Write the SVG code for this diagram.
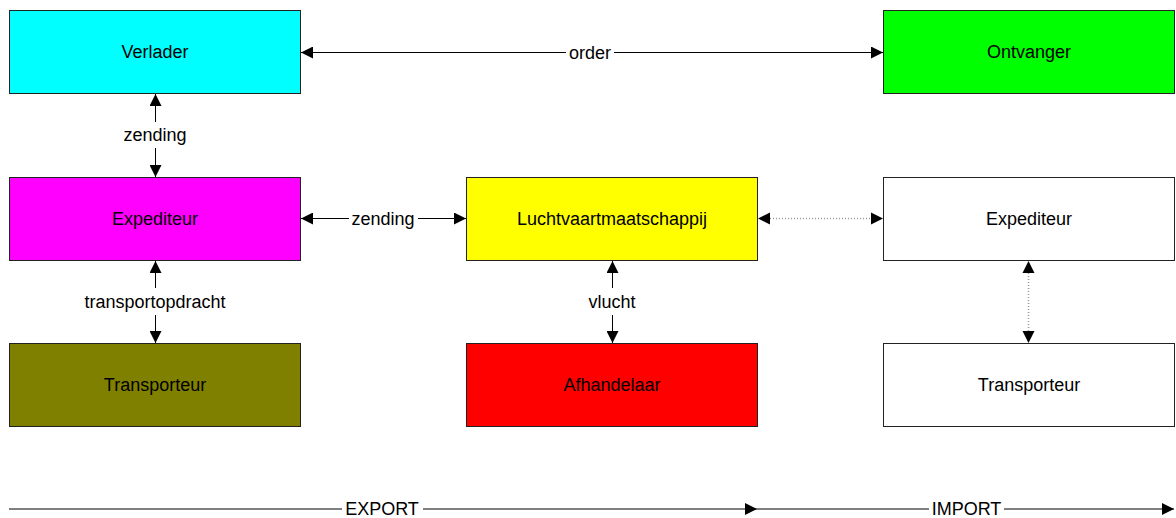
<svg xmlns="http://www.w3.org/2000/svg" width="1176" height="518" viewBox="0 0 1176 518">
<style>
.box{stroke:#222;stroke-width:1}
.t{font-family:"Liberation Sans",Arial,sans-serif;font-size:18px;fill:#000;text-anchor:middle}
.c{stroke:#000;stroke-width:1;fill:none}
.d{stroke:#999;stroke-width:1.5;stroke-dasharray:1 2;fill:none}
</style>
<defs>
<marker id="ah" markerUnits="userSpaceOnUse" markerWidth="12" markerHeight="12" refX="12" refY="6" orient="auto">
<path d="M0,0 L12,6 L0,12 z" fill="#000"/>
</marker>
</defs>
<rect width="1176" height="518" fill="#fff"/>
<g id="verlader"><rect class="box" x="9.5" y="10.5" width="291" height="83" fill="#00FFFF"/><text class="t" x="155" y="58">Verlader</text></g>
<g id="ontvanger"><rect class="box" x="883.5" y="10.5" width="291" height="83" fill="#00FF00"/><text class="t" x="1029" y="58">Ontvanger</text></g>
<g id="expediteur-export"><rect class="box" x="9.5" y="177.5" width="291" height="83" fill="#FF00FF"/><text class="t" x="155" y="225">Expediteur</text></g>
<g id="luchtvaartmaatschappij"><rect class="box" x="466.5" y="177.5" width="291" height="83" fill="#FFFF00"/><text class="t" x="612" y="225">Luchtvaartmaatschappij</text></g>
<g id="expediteur-import"><rect class="box" x="883.5" y="177.5" width="291" height="83" fill="#FFFFFF"/><text class="t" x="1029" y="225">Expediteur</text></g>
<g id="transporteur-export"><rect class="box" x="9.5" y="343.5" width="291" height="83" fill="#808000"/><text class="t" x="155" y="391">Transporteur</text></g>
<g id="afhandelaar"><rect class="box" x="466.5" y="343.5" width="291" height="83" fill="#FF0000"/><text class="t" x="612" y="391">Afhandelaar</text></g>
<g id="transporteur-import"><rect class="box" x="883.5" y="343.5" width="291" height="83" fill="#FFFFFF"/><text class="t" x="1029" y="391">Transporteur</text></g>
<g id="connectors">
<line class="c" x1="566" y1="52.5" x2="301" y2="52.5" marker-end="url(#ah)"/>
<line class="c" x1="614" y1="52.5" x2="883" y2="52.5" marker-end="url(#ah)"/>
<text class="t" x="590" y="59">order</text>
<line class="c" x1="155.5" y1="122" x2="155.5" y2="94" marker-end="url(#ah)"/>
<line class="c" x1="155.5" y1="148" x2="155.5" y2="177" marker-end="url(#ah)"/>
<text class="t" x="155" y="141">zending</text>
<line class="c" x1="349" y1="218.5" x2="301" y2="218.5" marker-end="url(#ah)"/>
<line class="c" x1="418" y1="218.5" x2="466" y2="218.5" marker-end="url(#ah)"/>
<text class="t" x="383" y="225">zending</text>
<line class="c" x1="155.5" y1="288" x2="155.5" y2="261" marker-end="url(#ah)"/>
<line class="c" x1="155.5" y1="315" x2="155.5" y2="343" marker-end="url(#ah)"/>
<text class="t" x="155" y="308">transportopdracht</text>
<line class="c" x1="612.5" y1="288" x2="612.5" y2="261" marker-end="url(#ah)"/>
<line class="c" x1="612.5" y1="315" x2="612.5" y2="343" marker-end="url(#ah)"/>
<text class="t" x="612" y="308">vlucht</text>
<line class="d" x1="770" y1="218.5" x2="871" y2="218.5"/>
<path d="M758,218.5 L770,212.5 L770,224.5 z" fill="#000"/>
<path d="M883,218.5 L871,212.5 L871,224.5 z" fill="#000"/>
<line class="d" x1="1028.5" y1="273" x2="1028.5" y2="331"/>
<path d="M1028.5,261 L1022.5,273 L1034.5,273 z" fill="#000"/>
<path d="M1028.5,343 L1022.5,331 L1034.5,331 z" fill="#000"/>
<line class="c" x1="9" y1="509" x2="342" y2="509"/>
<line class="c" x1="423" y1="509" x2="757" y2="509" marker-end="url(#ah)"/>
<text class="t" x="382" y="515">EXPORT</text>
<line class="c" x1="757" y1="509" x2="929" y2="509"/>
<line class="c" x1="1004" y1="509" x2="1174" y2="509" marker-end="url(#ah)"/>
<text class="t" x="966.5" y="515">IMPORT</text>
</g>
</svg>
